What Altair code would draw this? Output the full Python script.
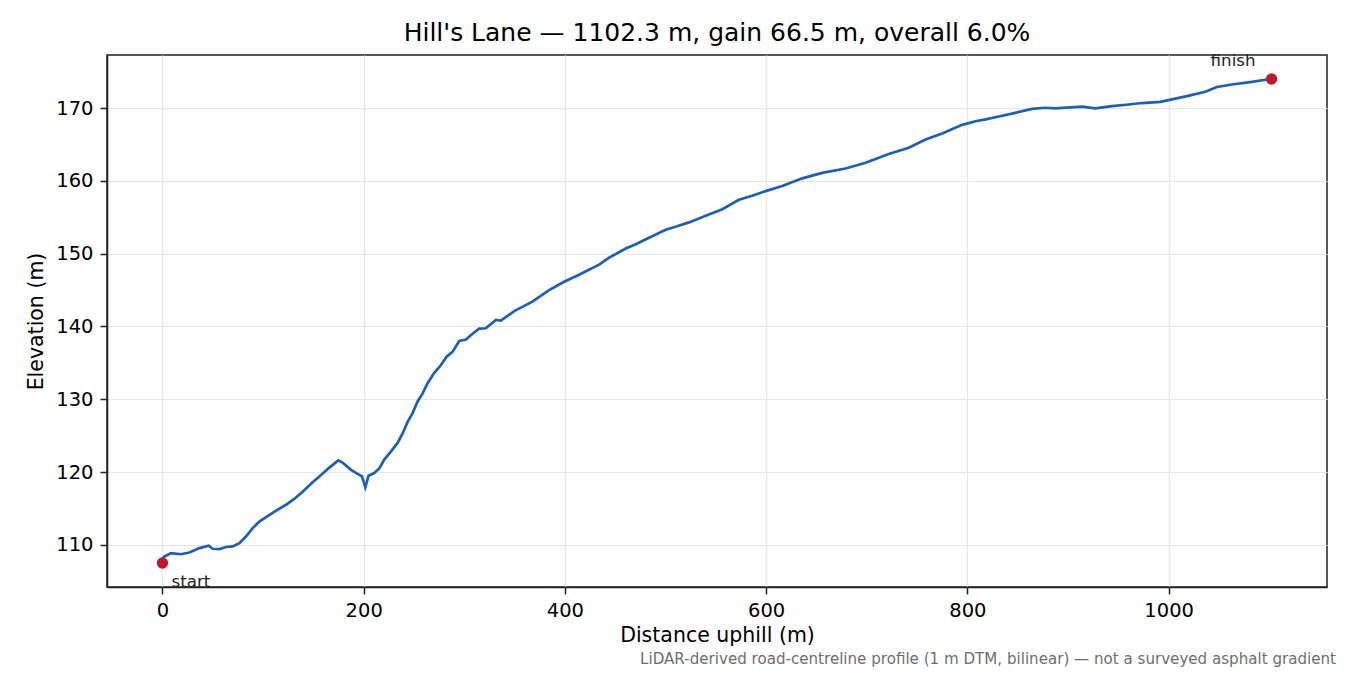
import altair as alt
import pandas as pd

# profile (distance uphill in m, elevation in m)
dist = [0, 2, 8.6, 18.5, 26.8, 36.7, 46, 50, 56.6, 63.2, 69.8, 76.5, 83, 89.7,
        96.3, 103, 113, 122.8, 131, 139.3, 149.3, 157.6, 165.8, 174.8, 179,
        187.4, 194, 198.3, 201.6, 204.9, 210.5, 215.5, 220.5, 227, 233.7,
        238.7, 243.7, 248.6, 253.6, 258.6, 263.5, 270, 276.8, 282.4, 288.3,
        295, 301.6, 308.2, 314.8, 321.4, 331.4, 336.3, 349.6, 367.7, 384.3,
        399.2, 414.1, 434, 443.9, 460.5, 470.4, 483.6, 500.2, 510, 523.3,
        539.9, 556.4, 573, 586.2, 599.5, 616, 635.9, 655.7, 678.9, 698.8,
        721.9, 741.8, 758.4, 774.9, 794.8, 808, 818, 831.2, 847.7, 864.3,
        877.6, 887.5, 913.9, 927.2, 943.7, 960.3, 973.5, 991.8, 1003.3,
        1018.2, 1036.4, 1048, 1062.9, 1082.8, 1096, 1102.3]
elev = [108.1, 108.4, 108.86, 108.7, 108.94, 109.55, 109.86, 109.45, 109.4,
        109.7, 109.77, 110.23, 111.14, 112.3, 113.2, 113.8, 114.7, 115.5,
        116.3, 117.3, 118.6, 119.6, 120.6, 121.6, 121.3, 120.3, 119.75, 119.4,
        117.9, 119.5, 119.85, 120.5, 121.7, 122.8, 124.0, 125.3, 126.9, 128.1,
        129.7, 130.8, 132.2, 133.6, 134.7, 135.85, 136.5, 138.0, 138.2, 139.0,
        139.7, 139.75, 140.9, 140.8, 142.1, 143.4, 145.0, 146.15, 147.1,
        148.5, 149.45, 150.7, 151.3, 152.2, 153.3, 153.7, 154.3, 155.2, 156.1,
        157.4, 157.96, 158.6, 159.3, 160.35, 161.1, 161.7, 162.5, 163.7,
        164.55, 165.7, 166.5, 167.7, 168.2, 168.45, 168.85, 169.35, 169.9,
        170.05, 169.96, 170.2, 169.96, 170.28, 170.5, 170.7, 170.87, 171.2,
        171.65, 172.25, 172.9, 173.25, 173.6, 173.9, 174.0]

end_labels = ["start", "finish"]
end_dist = [0, 1102.3]
end_elev = [107.5, 174.0]

x_ticks = [0, 200, 400, 600, 800, 1000]
y_ticks = [110, 120, 130, 140, 150, 160, 170]

profile = pd.DataFrame({"d": dist, "e": elev})
ends = pd.DataFrame({"label": end_labels, "d": end_dist, "e": end_elev})

FONT = "DejaVu Sans"

x = alt.X("d:Q", scale=alt.Scale(domain=[-55.1, 1157.4], nice=False, zero=False),
          axis=alt.Axis(values=x_ticks, format="d", title="Distance uphill (m)", titlePadding=6))
y = alt.Y("e:Q", scale=alt.Scale(domain=[104.2, 177.3], nice=False, zero=False),
          axis=alt.Axis(values=y_ticks, format="d", title="Elevation (m)", titlePadding=9))

line = alt.Chart(profile).mark_line(color="#1c5fb5", strokeWidth=2.7).encode(x=x, y=y)

dots = alt.Chart(ends).mark_circle(color="#c0182a", size=130, opacity=1).encode(x="d:Q", y="e:Q")

start_txt = alt.Chart(ends).transform_filter(alt.datum.label == "start").mark_text(
    align="left", baseline="alphabetic", dx=9, dy=24, fontSize=16.7, font=FONT, color="#222"
).encode(x="d:Q", y="e:Q", text="label:N")

finish_txt = alt.Chart(ends).transform_filter(alt.datum.label == "finish").mark_text(
    align="right", baseline="alphabetic", dx=-16, dy=-13, fontSize=16.7, font=FONT, color="#222"
).encode(x="d:Q", y="e:Q", text="label:N")

note = alt.Chart(ends).transform_filter(alt.datum.label == "start").mark_text(
    align="right", baseline="alphabetic", fontSize=15.1, font=FONT, color="#6e6e6e"
).encode(
    x=alt.value(1229), y=alt.value(609),
    text=alt.value("LiDAR-derived road-centreline profile (1 m DTM, bilinear) — not a surveyed asphalt gradient"),
)

chart = alt.layer(line, dots, start_txt, finish_txt, note).properties(
    width=1220, height=532,
    title=alt.Title("Hill's Lane — 1102.3 m, gain 66.5 m, overall 6.0%",
                    fontSize=25, font=FONT, fontWeight="normal", color="black", offset=7),
    autosize=alt.AutoSizeParams(type="none"),
    padding={"left": 99, "top": 47, "right": 15, "bottom": 86},
).configure_view(
    stroke="#222", strokeWidth=1.5
).configure_axis(
    labelFont=FONT, titleFont=FONT, labelFontSize=19.5, titleFontSize=20.5,
    titleFontWeight="normal", labelColor="black", titleColor="black",
    domainColor="#222", domainWidth=1.5, tickColor="#222", tickWidth=1.5,
    tickSize=7, labelPadding=7,
    gridColor="#e6e6e6", gridWidth=1.2,
)

chart.save("out.html", embed_options={"renderer": "svg", "actions": False})
